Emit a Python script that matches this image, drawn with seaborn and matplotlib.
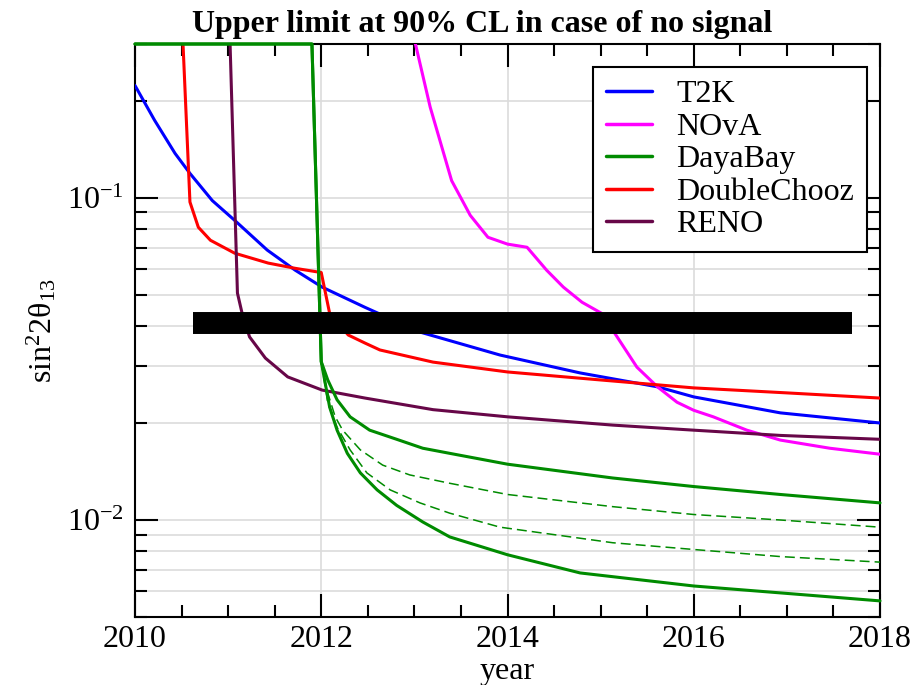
import matplotlib
matplotlib.use("Agg")
import matplotlib.pyplot as plt
from matplotlib.lines import Line2D
from matplotlib.ticker import (LogLocator, LogFormatterSciNotation,
                               NullFormatter, MultipleLocator)
import seaborn as sns

# ---- sensitivity curves: 90% CL upper limit on sin^2(2 theta_13) vs. year ----
t2k_year = [2010.0, 2010.21, 2010.43, 2010.59, 2010.83, 2011.07, 2011.42, 2011.72,
            2012.01, 2012.47, 2013.06, 2013.92, 2014.78, 2015.61, 2016.0, 2016.93, 2018.0]
t2k_limit = [0.223, 0.174, 0.1373, 0.119, 0.098, 0.0851, 0.0688, 0.0596,
             0.0528, 0.0457, 0.0383, 0.0325, 0.0286, 0.0259, 0.0241, 0.0215, 0.0200]

nova_year = [2013.0, 2013.17, 2013.40, 2013.60, 2013.79, 2014.0, 2014.21, 2014.42,
             2014.6, 2014.8, 2015.01, 2015.18, 2015.39, 2015.61, 2015.82, 2016.0,
             2016.21, 2016.57, 2016.93, 2017.46, 2018.0]
nova_limit = [0.31, 0.191, 0.113, 0.0882, 0.0754, 0.0718, 0.0702, 0.0596,
              0.0528, 0.0474, 0.0438, 0.0369, 0.0298, 0.0259, 0.0232, 0.0219,
              0.0209, 0.0190, 0.0177, 0.0167, 0.0160]

dc_year = [2010.5, 2010.59, 2010.68, 2010.81, 2011.07, 2011.43, 2011.72, 2012.0,
           2012.09, 2012.29, 2012.47, 2012.63, 2013.2, 2014.0, 2014.87, 2016.0,
           2017.0, 2018.0]
dc_limit = [0.38, 0.097, 0.081, 0.0738, 0.0673, 0.0627, 0.0604, 0.0586,
            0.0438, 0.0375, 0.0354, 0.0337, 0.0309, 0.0288, 0.0274, 0.0257,
            0.0248, 0.0239]

reno_year = [2011.0, 2011.1, 2011.15, 2011.23, 2011.40, 2011.64, 2012.01, 2012.47,
             2013.2, 2014.0, 2015.13, 2016.0, 2016.93, 2018.0]
reno_limit = [0.48, 0.0506, 0.0438, 0.0370, 0.0318, 0.0278, 0.0253, 0.0239,
              0.0220, 0.0209, 0.0197, 0.0190, 0.0183, 0.0178]

# Daya Bay: common start, then four scenarios (two solid, two dashed)
db_start_year = [2010.0, 2011.9, 2012.0]
db_start_limit = [0.3, 0.3, 0.031]

db_high_year = [2012.07, 2012.17, 2012.31, 2012.52, 2012.81, 2013.09, 2013.38,
                2014.0, 2015.13, 2016.0, 2016.93, 2018.0]
db_high_limit = [0.0272, 0.0236, 0.0209, 0.0190, 0.0178, 0.0167, 0.0161,
                 0.0149, 0.0135, 0.0127, 0.0120, 0.0113]

db_low_year = [2012.09, 2012.17, 2012.28, 2012.42, 2012.6, 2012.81, 2013.09,
               2013.38, 2014.0, 2014.78, 2016.0, 2016.93, 2018.0]
db_low_limit = [0.0224, 0.0190, 0.0161, 0.0140, 0.0124, 0.0111, 0.00986,
                0.00886, 0.0078, 0.00685, 0.00624, 0.00594, 0.00561]

db_mid1_year = [2012.06, 2012.15, 2012.23, 2012.42, 2012.66, 2012.95, 2013.38,
                2014.0, 2015.13, 2016.0, 2016.93, 2018.0]
db_mid1_limit = [0.0253, 0.0209, 0.0190, 0.0165, 0.0148, 0.0138, 0.0130,
                 0.0120, 0.0110, 0.0104, 0.0100, 0.0095]

db_mid2_year = [2012.07, 2012.17, 2012.31, 2012.49, 2012.74, 2013.06, 2013.38,
                2013.92, 2015.13, 2016.0, 2016.93, 2018.0]
db_mid2_limit = [0.0231, 0.0194, 0.0165, 0.0140, 0.0124, 0.0113, 0.0105,
                 0.0095, 0.0085, 0.0081, 0.0077, 0.0074]

# reference band
band_year = [2010.625, 2017.7]
band_level = [0.041, 0.041]

labels = ["T2K", "NOvA", "DayaBay", "DoubleChooz", "RENO"]
colors = {"T2K": "#0000FF", "NOvA": "#FF00FF", "DayaBay": "#008B00",
          "DoubleChooz": "#FF0000", "RENO": "#670748"}

year_ticks = [2010, 2012, 2014, 2016, 2018]

# ---- style ----
sns.set_style("ticks")
plt.rcParams.update({
    "font.family": ["Liberation Serif", "DejaVu Serif"],
    "mathtext.fontset": "custom",
    "mathtext.rm": "Liberation Serif",
    "mathtext.it": "Liberation Serif:italic",
    "mathtext.bf": "Liberation Serif:bold",
    "font.size": 23,
    "axes.linewidth": 1.5,
    "axes.unicode_minus": False,
    "text.color": "black",
    "axes.labelcolor": "black",
    "xtick.color": "black",
    "ytick.color": "black",
})

fig = plt.figure(figsize=(9.15, 6.85), dpi=100)
ax = fig.add_axes([135 / 915, 1 - 617 / 685, 745 / 915, 573 / 685])
ax.set_yscale("log")

LW = 2.2


def draw(x, y, color, lw=LW, dashed=False, clip=True):
    sns.lineplot(x=x, y=y, ax=ax, color=color, lw=lw, estimator=None,
                 sort=False, zorder=3, clip_on=clip)
    line = ax.lines[-1]
    if dashed:
        line.set_dashes([6.5, 3.3])
    return line


draw(t2k_year, t2k_limit, colors["T2K"])
draw(nova_year, nova_limit, colors["NOvA"])
draw(dc_year, dc_limit, colors["DoubleChooz"])
draw(reno_year, reno_limit, colors["RENO"])
draw(db_start_year + db_high_year, db_start_limit + db_high_limit,
     colors["DayaBay"], clip=False)
draw(db_start_year + db_low_year, db_start_limit + db_low_limit,
     colors["DayaBay"], clip=False)
draw(db_start_year[-1:] + db_mid1_year, db_start_limit[-1:] + db_mid1_limit,
     colors["DayaBay"], lw=1.1, dashed=True)
draw(db_start_year[-1:] + db_mid2_year, db_start_limit[-1:] + db_mid2_limit,
     colors["DayaBay"], lw=1.1, dashed=True)

# thick horizontal reference band
sns.lineplot(x=band_year, y=band_level, ax=ax, color="black", lw=15.8,
             estimator=None, zorder=4)
ax.lines[-1].set_solid_capstyle("butt")

# ---- axes ----
ax.set_xlim(2010, 2018)
ax.set_ylim(0.005, 0.3)
ax.set_xticks(year_ticks)
ax.set_xticklabels([str(y) for y in year_ticks])
ax.xaxis.set_minor_locator(MultipleLocator(0.5))
ax.yaxis.set_major_locator(LogLocator(base=10))
ax.yaxis.set_minor_locator(LogLocator(base=10, subs=range(2, 10)))
ax.yaxis.set_major_formatter(LogFormatterSciNotation())
ax.yaxis.set_minor_formatter(NullFormatter())

ax.tick_params(which="both", direction="in", top=True, right=True,
               width=1.5, color="black", labelsize=23, labelcolor="black")
ax.tick_params(which="major", length=16.5)
ax.tick_params(which="minor", length=8.5)
ax.tick_params(axis="x", which="major", pad=6)
ax.tick_params(axis="y", which="major", pad=8)

ax.set_axisbelow(True)
ax.grid(axis="x", which="major", color="#dcdcdc", lw=1.2)
ax.grid(axis="y", which="both", color="#dcdcdc", lw=1.2)
for s in ax.spines.values():
    s.set_color("black")
    s.set_linewidth(1.5)

ax.set_xlabel("year", labelpad=2)
ax.set_ylabel(r"$\mathregular{sin^{2}2θ_{13}}$", labelpad=6)

fig.text(482 / 915, 1 - 32 / 685, "Upper limit at 90% CL in case of no signal",
         ha="center", va="baseline", fontweight="bold", fontsize=23)

handles = [Line2D([], [], color=colors[k], lw=2.5) for k in labels]
leg = ax.legend(handles, labels, loc="upper left",
                bbox_to_anchor=((593 - 135) / 745, (617 - 67) / 573),
                borderaxespad=0, frameon=True, fancybox=False,
                edgecolor="black", framealpha=1, fontsize=23,
                handlelength=1.45, handletextpad=0.75, labelspacing=0.1,
                borderpad=0.4)
leg.get_frame().set_linewidth(1.5)
leg.set_zorder(6)

fig.savefig("out.png", dpi=100)
